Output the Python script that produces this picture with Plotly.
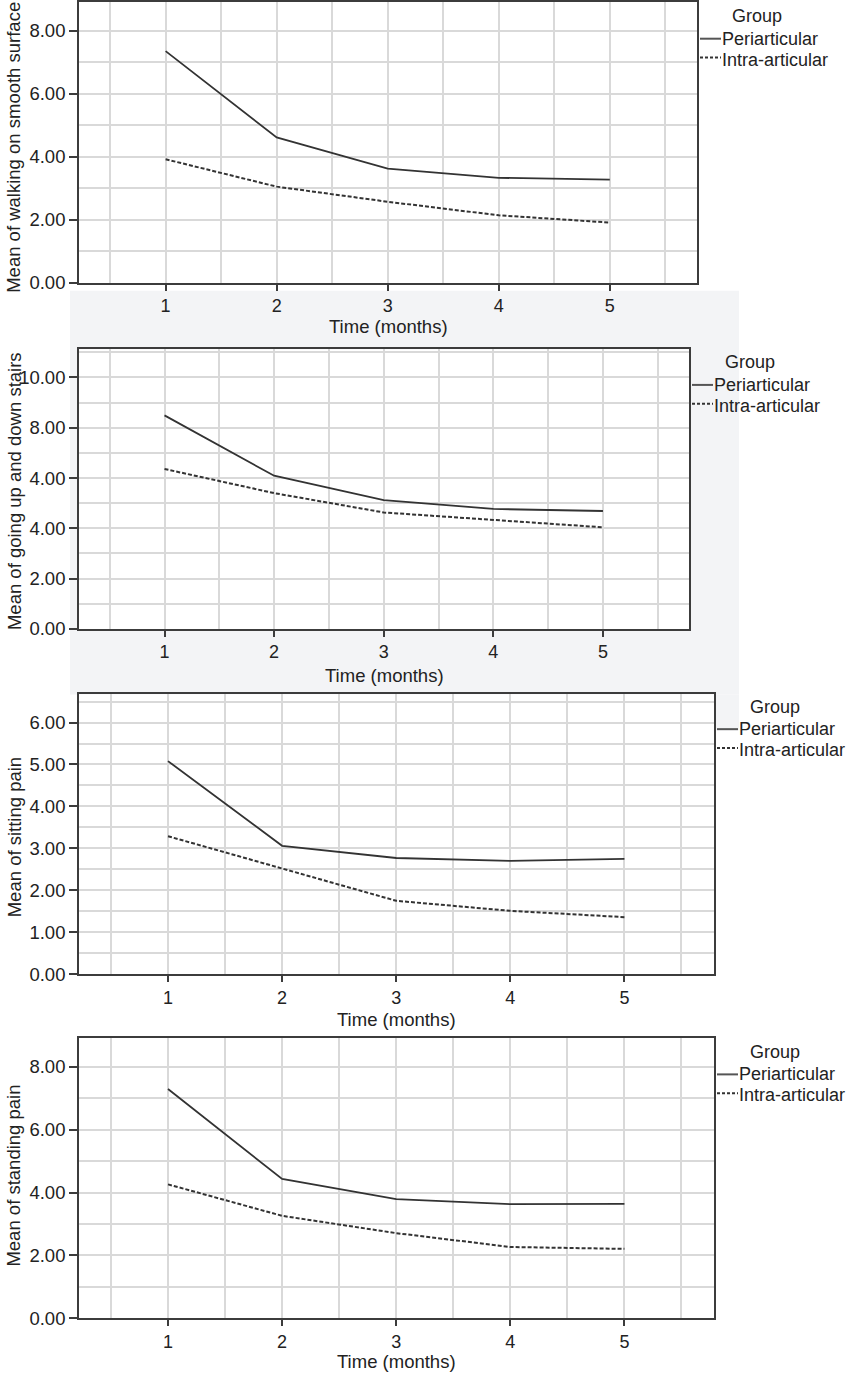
import plotly.graph_objects as go

W, H = 850, 1382

# Data
months = [1, 2, 3, 4, 5]

walking_peri = [7.35, 4.61, 3.62, 3.33, 3.27]
walking_intra = [3.92, 3.05, 2.57, 2.14, 1.91]

stairs_peri = [8.49, 6.09, 5.12, 4.77, 4.69]
stairs_intra = [6.36, 5.40, 4.63, 4.33, 4.04]

sitting_peri = [5.08, 3.06, 2.77, 2.70, 2.75]
sitting_intra = [3.29, 2.52, 1.75, 1.51, 1.36]

standing_peri = [7.29, 4.43, 3.79, 3.63, 3.64]
standing_intra = [4.26, 3.26, 2.71, 2.27, 2.21]

legend_title = "Group"
group_names = ["Periarticular", "Intra-articular"]
y_titles = ["Mean of walking on smooth surface", "Mean of going up and down stairs",
            "Mean of sitting pain", "Mean of standing pain"]
x_title = "Time (months)"

# y ticks (second chart really labels its third tick "4.00")
stairs_tickvals = [0, 2, 4, 6, 8, 10]
stairs_ticktext = ["0.00", "2.00", "4.00", "4.00", "8.00", "10.00"]


def px(x):
    return x / W


def py(y):
    return 1 - y / H


# pixel boxes of the four plot areas: left, top, right, bottom
boxes = [(79, 1, 697, 284), (79, 351, 689, 633), (79, 699, 714, 981), (79, 1045, 714, 1328)]
y_ranges = [[0, 8.91], [0, 11.12], [0, 6.67], [0, 8.92]]
y_dticks = [(2, 1), (2, 1), (1, 0.5), (2, 1)]
xtitle_y = [328, 680, 1027, 1371]
ytitle_y = [148, 494, 843, 1184]
# legend: (title centre x, title y, sample line start x, first row y)
legend_pos = [(757, 15, 700, 38), (750, 364, 692, 387),
              (775, 712, 717, 734), (775, 1059, 717, 1082)]
ROW_GAP = 21

series = [(walking_peri, walking_intra), (stairs_peri, stairs_intra),
          (sitting_peri, sitting_intra), (standing_peri, standing_intra)]

FONT = "Liberation Sans, Arial, sans-serif"
FS = 18.5
TXT = "#222222"
LINE = "#333333"
GRID = "#d9d9d9"
FRAME = "#3c3c3c"
DASH = "4px,2px"

fig = go.Figure()
layout = dict(width=W, height=H, margin=dict(l=0, r=0, t=0, b=0),
              paper_bgcolor="white", plot_bgcolor="white", showlegend=False,
              font=dict(family=FONT, size=FS, color=TXT))
annotations = []
shapes = []

# light grey backdrop around the second chart
shapes.append(dict(type="rect", xref="paper", yref="paper", layer="below",
                   x0=px(70), x1=px(739), y0=py(699), y1=py(292),
                   fillcolor="#f3f4f6", line=dict(width=0)))
shapes.append(dict(type="rect", xref="paper", yref="paper", layer="below",
                   x0=px(714), x1=px(739), y0=py(735), y1=py(699),
                   fillcolor="#f3f4f6", line=dict(width=0)))

for i, (peri, intra) in enumerate(series):
    n = "" if i == 0 else str(i + 1)
    l, t, r, b = boxes[i]

    fig.add_trace(go.Scatter(x=months, y=peri, mode="lines", name=group_names[0],
                             line=dict(color=LINE, width=1.8),
                             xaxis="x" + n, yaxis="y" + n))
    fig.add_trace(go.Scatter(x=months, y=intra, mode="lines", name=group_names[1],
                             line=dict(color=LINE, width=2, dash=DASH),
                             xaxis="x" + n, yaxis="y" + n))

    shapes.append(dict(type="rect", xref="paper", yref="paper", layer="below",
                       x0=px(l), x1=px(r), y0=py(b), y1=py(t),
                       fillcolor="white", line=dict(width=0)))

    layout["xaxis" + n] = dict(
        domain=[px(l), px(r)], anchor="y" + n, range=[0.22, 5.785],
        tickmode="array", tickvals=months, ticks="outside", ticklen=6,
        tickcolor=FRAME, tickwidth=1.5, tickfont=dict(size=18),
        showgrid=True, gridcolor=GRID, gridwidth=1.5,
        minor=dict(dtick=0.5, tick0=0, showgrid=True, gridcolor=GRID, gridwidth=1.5, ticks=""),
        showline=True, linecolor=FRAME, linewidth=1.7, mirror=True,
        zeroline=False, fixedrange=True)

    major, minor = y_dticks[i]
    yax = dict(
        domain=[py(b), py(t)], anchor="x" + n, range=y_ranges[i],
        dtick=major, tick0=0, tickformat=".2f", ticks="outside", ticklen=8,
        tickcolor=FRAME, tickwidth=1.5,
        showgrid=True, gridcolor=GRID, gridwidth=1.5,
        minor=dict(dtick=minor, tick0=0, showgrid=True, gridcolor=GRID, gridwidth=1.5, ticks=""),
        showline=True, linecolor=FRAME, linewidth=1.7, mirror=True,
        zeroline=False, fixedrange=True)
    if i == 1:
        yax.update(tickmode="array", tickvals=stairs_tickvals, ticktext=stairs_ticktext)
    layout["yaxis" + n] = yax

    annotations.append(dict(text=y_titles[i], xref="paper", yref="paper",
                            x=px(14), y=py(ytitle_y[i]), textangle=-90,
                            showarrow=False, xanchor="center", yanchor="middle",
                            font=dict(size=FS, color=TXT)))
    annotations.append(dict(text=x_title, xref="paper", yref="paper",
                            x=px((l + r) / 2), y=py(xtitle_y[i]),
                            showarrow=False, xanchor="center", yanchor="middle",
                            font=dict(size=FS, color=TXT)))

    # legend drawn beside each chart
    gx, gy, lx, ly = legend_pos[i]
    annotations.append(dict(text=legend_title, xref="paper", yref="paper",
                            x=px(gx), y=py(gy), showarrow=False,
                            xanchor="center", yanchor="middle", font=dict(size=18, color=TXT)))
    for k, name in enumerate(group_names):
        row_y = ly + k * ROW_GAP
        annotations.append(dict(text=name, xref="paper", yref="paper",
                                x=px(lx + 22), y=py(row_y), showarrow=False,
                                xanchor="left", yanchor="middle", xshift=-2,
                                font=dict(size=18, color=TXT)))
        line_y = row_y if k == 0 else row_y - 2
        shapes.append(dict(type="line", xref="paper", yref="paper",
                           x0=px(lx), x1=px(lx + 21), y0=py(line_y), y1=py(line_y),
                           line=dict(color="#555555" if k == 0 else LINE, width=2,
                                     dash="solid" if k == 0 else "3px,2px")))

layout["annotations"] = annotations
layout["shapes"] = shapes
fig.update_layout(**layout)

# drop the browser's default page margin so the figure sits at the top-left corner
fig.write_html("out.html", config={"displayModeBar": False},
               post_script="document.body.style.margin='0';")
